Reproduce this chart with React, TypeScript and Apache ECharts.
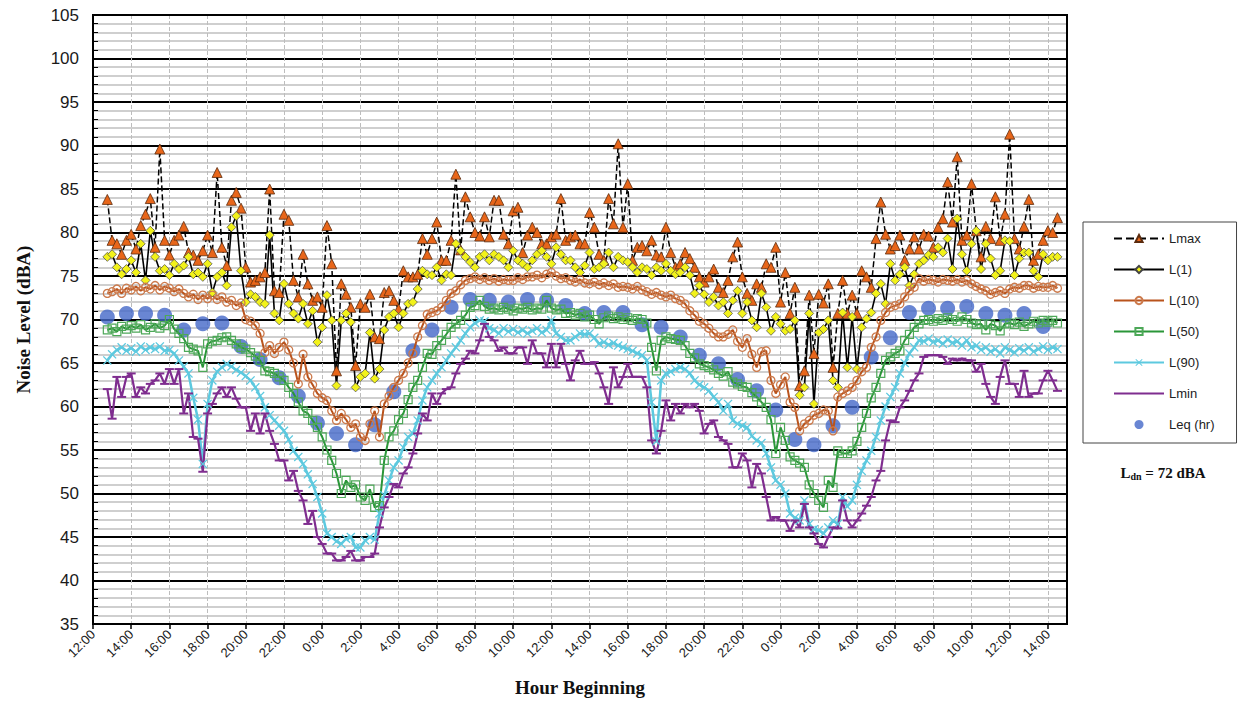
import React, { useEffect, useRef } from "react";
import * as echarts from "echarts";

// Hours after 12:00 on day 1 of the first 15-minute sample
const START_HOUR = 0.75;
const STEP = 0.25;

const lmax = [
  83.8,
  79.1, 78.7, 77.5, 79.1,
  79.8, 78.1, 80.8, 82.1,
  83.9, 78.3, 89.6, 79.1,
  77.4, 79.1, 79.7, 80.7,
  77.7, 77.4, 76.8, 77.9,
  79.7, 77.7, 86.9, 78.3,
  76.2, 83.7, 84.6, 82.8,
  76.0, 74.3, 74.5, 74.9,
  75.4, 85.0, 73.3, 73.1,
  82.1, 81.4, 74.5, 72.6,
  77.5, 74.1, 72.2, 72.6,
  71.4, 80.8, 76.4, 64.1,
  74.1, 72.9, 71.4, 64.7,
  71.8, 71.4, 72.9, 68.0,
  67.8, 73.1, 73.3, 72.2,
  71.2, 75.6, 74.9, 74.9,
  75.2, 79.3, 77.5, 79.3,
  81.2, 76.8, 76.8, 79.1,
  86.7, 78.0, 84.1, 81.8,
  80.0, 79.6, 81.8, 79.5,
  83.7, 83.7, 79.8, 78.7,
  82.5, 82.9, 77.7, 79.7,
  80.6, 80.0, 78.7, 78.7,
  79.5, 79.8, 83.9, 79.1,
  79.5, 79.7, 78.7, 78.7,
  82.3, 80.6, 77.5, 76.8,
  83.9, 81.0, 90.2, 80.6,
  85.6, 76.8, 78.3, 78.5,
  77.9, 79.1, 77.4, 77.2,
  80.6, 77.7, 76.0, 76.4,
  77.7, 77.0, 76.0, 74.9,
  74.3, 74.9, 75.8, 73.7,
  73.1, 74.5, 77.2, 78.9,
  74.9, 73.0, 72.2, 74.1,
  73.7, 76.4, 76.0, 78.3,
  72.0, 75.4, 70.7, 73.7,
  62.4, 64.1, 72.8, 66.1,
  72.9, 71.9, 74.1, 64.5,
  70.7, 74.5, 70.7, 72.8,
  70.7, 75.6, 74.9, 73.7,
  79.3, 83.5, 79.8, 78.1,
  78.5, 79.7, 76.8, 78.1,
  79.5, 78.1, 79.8, 79.6,
  78.3, 80.6, 81.6, 85.8,
  81.2, 88.7, 79.1, 79.7,
  85.6, 80.2, 77.2, 80.7,
  79.3, 84.1, 79.1, 82.1,
  91.3, 79.3, 78.1, 80.7,
  83.8, 76.8, 77.5, 79.1,
  80.2, 80.0, 81.7,
];

const l1 = [
  77.2,
  77.5, 76.0, 75.2, 75.8,
  76.8, 75.4, 78.7, 74.5,
  80.2, 77.2, 75.6, 75.8,
  75.1, 76.4, 75.8, 76.2,
  77.2, 75.2, 75.4, 74.9,
  76.4, 73.1, 74.9, 75.4,
  73.9, 80.6, 81.9, 75.6,
  72.0, 72.9, 72.6, 72.0,
  71.8, 79.7, 70.7, 69.9,
  74.1, 71.8, 70.7, 70.1,
  71.8, 69.5, 71.0, 67.4,
  69.1, 72.8, 69.9, 62.4,
  69.9, 70.7, 69.7, 62.2,
  63.4, 63.8, 68.5, 63.2,
  64.3, 68.8, 70.3, 70.7,
  69.1, 70.7, 71.8, 72.0,
  73.5, 75.6, 75.2, 75.1,
  76.0, 74.5, 75.2, 75.1,
  78.7, 77.9, 77.2, 76.6,
  76.0, 77.2, 77.5, 76.8,
  77.5, 77.2, 76.8, 76.0,
  77.9, 76.8, 76.4, 76.0,
  76.8, 77.5, 77.9, 77.2,
  76.4, 78.3, 77.5, 76.8,
  76.8, 76.0, 75.4, 76.2,
  77.7, 75.8, 76.0, 76.4,
  77.7, 76.0, 77.2, 76.8,
  76.6, 76.0, 75.4, 76.0,
  75.8, 75.1, 76.0, 75.6,
  76.4, 75.6, 75.2, 75.4,
  76.0, 75.1, 73.0, 73.9,
  72.9, 72.0, 72.6, 71.6,
  72.0, 70.7, 72.2, 73.3,
  70.7, 72.0, 69.9, 69.1,
  73.0, 71.4, 68.7, 70.3,
  69.5, 68.7, 68.9, 69.9,
  61.3, 62.2, 70.7, 60.3,
  68.5, 68.9, 69.9, 63.0,
  62.2, 70.8, 64.5, 70.3,
  64.3, 69.1, 70.1, 70.8,
  73.0, 74.1, 71.8, 76.4,
  74.5, 75.2, 76.0, 73.9,
  75.2, 76.4, 76.8, 77.4,
  77.2, 78.3, 77.7, 79.3,
  75.8, 81.6, 77.5, 75.6,
  78.7, 80.2, 75.8, 78.7,
  77.0, 75.1, 75.6, 79.1,
  79.0, 75.1, 77.0, 77.7,
  77.7, 75.6, 74.9, 77.5,
  76.8, 77.2, 77.2,
];

const l10 = [
  73.0,
  73.2, 73.5, 73.0, 73.6,
  73.4, 73.8, 73.3, 73.7,
  73.5, 73.9, 73.4, 73.8,
  73.6, 73.2, 73.5, 73.0,
  72.6, 72.9, 72.3, 72.8,
  72.4, 72.8, 72.3, 72.6,
  72.0, 72.2, 71.6, 71.9,
  70.0, 69.8, 69.3, 68.4,
  66.2, 67.0, 66.1, 66.8,
  67.4, 66.5, 65.0, 62.6,
  66.0, 63.4, 62.5, 61.5,
  61.0, 60.7, 59.5, 58.4,
  59.2, 58.5, 57.6, 58.0,
  56.5, 56.1, 58.0, 59.5,
  56.5, 60.3, 61.2, 62.2,
  63.0, 63.8, 65.0, 66.1,
  68.0, 69.3, 70.6, 70.8,
  71.0, 71.4, 72.2, 73.0,
  73.3, 74.0, 74.5, 74.7,
  74.9, 74.6, 74.8, 74.5,
  74.7, 74.4, 74.6, 74.5,
  74.5, 74.8, 74.6, 74.9,
  74.9, 75.1, 74.8, 75.2,
  75.4, 75.0, 74.7, 74.8,
  74.5, 74.3, 74.6, 74.2,
  74.1, 74.3, 74.0, 74.2,
  73.9, 74.1, 73.7, 73.8,
  73.7, 73.5, 73.8, 73.4,
  73.2, 72.9, 73.1, 72.8,
  72.6, 72.8, 72.4, 72.2,
  71.8, 71.0, 70.5, 69.8,
  69.5, 69.0, 68.4, 68.0,
  68.0, 68.3, 68.8, 67.5,
  66.8, 67.8, 66.0, 64.5,
  66.3, 66.4, 63.0, 61.5,
  62.5, 63.4, 60.5, 59.9,
  57.2, 58.0, 58.4, 59.0,
  59.2, 59.6, 59.5, 57.2,
  61.1, 61.5, 61.8, 62.2,
  63.0, 64.0, 64.5, 66.8,
  68.0, 69.9, 70.8, 71.4,
  71.6, 71.8, 72.6, 73.3,
  73.7, 74.7, 74.4, 74.6,
  74.5, 74.3, 74.6, 74.5,
  74.4, 74.6, 74.3, 74.5,
  74.1, 73.8, 73.5, 73.3,
  72.9, 73.1, 73.3, 73.0,
  73.5, 73.7, 73.6, 73.9,
  73.9, 73.6, 73.8, 73.7,
  73.7, 73.9, 73.6,
];

const l50 = [
  68.8,
  69.0, 68.6, 69.2, 68.9,
  69.3, 69.0, 69.4, 68.8,
  69.1, 69.5, 69.0, 69.3,
  70.0, 68.9, 68.4, 67.8,
  66.8, 66.6, 66.4, 64.5,
  67.2, 67.5, 67.6, 67.9,
  68.0, 67.6, 67.2, 66.8,
  66.6, 66.2, 65.8, 65.3,
  64.1, 64.0, 63.8, 63.4,
  63.0, 62.2, 61.5, 60.5,
  59.5, 59.2, 58.4, 57.6,
  56.5, 55.0, 53.8, 52.3,
  50.0, 51.5, 50.7, 51.0,
  49.6, 49.2, 50.5, 48.4,
  48.6, 53.8, 56.5, 57.2,
  58.5, 59.2, 60.8, 62.2,
  63.0, 64.5, 66.1, 66.0,
  67.0, 67.6, 68.3, 69.1,
  69.5, 69.9, 70.5, 71.4,
  71.6, 72.2, 71.5, 71.2,
  71.3, 71.1, 71.4, 71.2,
  71.0, 71.3, 71.2, 71.4,
  71.1, 71.3, 71.2, 72.2,
  71.3, 71.1, 71.2, 70.7,
  70.8, 70.5, 70.7, 70.3,
  70.5, 70.0, 69.5, 70.2,
  70.4, 70.1, 70.3, 70.0,
  70.2, 69.9, 70.1, 70.0,
  69.6, 66.8, 64.1, 67.6,
  68.0, 67.8, 67.7, 67.6,
  67.0, 66.1, 65.6, 64.9,
  64.7, 64.5, 64.2, 63.8,
  63.5, 64.0, 62.8, 62.6,
  62.3, 62.2, 61.6, 61.1,
  60.5, 59.9, 58.5, 54.6,
  57.6, 56.1, 54.2, 53.8,
  53.5, 53.0, 51.0, 50.0,
  49.2, 48.4, 51.5, 50.7,
  54.9, 54.6, 54.6, 54.9,
  56.0, 57.6, 59.2, 61.0,
  62.2, 63.8, 65.3, 65.7,
  66.1, 66.4, 67.6, 68.3,
  69.1, 69.5, 69.9, 70.0,
  69.8, 70.1, 69.9, 70.2,
  70.0, 69.8, 70.3, 70.0,
  69.6, 69.4, 69.5, 68.8,
  69.5, 69.3, 68.7, 69.5,
  69.6, 69.4, 69.7, 69.2,
  69.5, 69.8, 69.6, 69.9,
  69.7, 69.9, 69.6,
];

const l90 = [
  65.3,
  66.0, 66.5, 66.8, 66.4,
  66.7, 66.3, 66.9, 66.5,
  66.8, 66.6, 66.9, 66.4,
  66.5, 66.1, 65.3, 64.6,
  63.8, 61.0, 58.5, 53.4,
  60.3, 63.0, 64.0, 64.5,
  64.9, 64.6, 64.2, 63.9,
  63.5, 63.0, 62.2, 61.2,
  59.9, 59.0, 58.4, 57.8,
  57.2, 56.2, 54.9, 54.2,
  53.4, 52.2, 51.1, 49.6,
  47.7, 45.4, 45.0, 44.5,
  44.2, 44.8, 45.0, 43.8,
  43.8, 44.6, 45.0, 44.7,
  47.7, 49.8, 51.5, 53.0,
  53.8, 55.3, 56.5, 56.9,
  58.4, 60.7, 62.2, 63.0,
  63.8, 64.5, 65.3, 66.1,
  66.8, 67.6, 68.4, 69.1,
  69.6, 69.9, 69.8, 69.0,
  68.8, 68.4, 69.0, 68.6,
  68.9, 68.5, 68.8, 68.4,
  68.7, 69.0, 68.5, 68.8,
  69.9, 68.4, 68.0, 67.6,
  67.6, 68.0, 68.4, 68.3,
  68.4, 67.9, 67.2, 67.4,
  67.1, 67.3, 67.0, 66.8,
  66.6, 66.4, 66.1, 65.9,
  65.3, 60.5, 56.0, 63.0,
  63.8, 64.0, 64.3, 64.5,
  64.3, 63.8, 63.0, 62.5,
  62.2, 61.8, 61.1, 60.5,
  59.5, 60.3, 58.4, 58.0,
  57.8, 57.6, 56.6, 56.1,
  55.8, 54.6, 53.0, 51.5,
  51.0, 50.0, 47.7, 47.2,
  46.9, 49.2, 46.5, 45.9,
  45.8, 45.4, 46.1, 46.9,
  46.5, 49.6, 48.5, 49.2,
  51.0, 52.6, 53.8, 54.9,
  56.5, 58.4, 60.0, 61.1,
  62.2, 63.8, 65.0, 66.1,
  66.8, 67.6, 67.5, 67.8,
  67.4, 67.6, 67.2, 67.7,
  67.3, 67.5, 67.0, 67.6,
  66.8, 67.0, 66.5, 66.8,
  66.3, 66.6, 66.1, 66.8,
  66.5, 66.2, 66.7, 66.4,
  66.8, 66.3, 66.6, 66.9,
  66.5, 66.8, 66.6,
];

const lmin = [
  62.0,
  58.6, 63.4, 61.1, 63.4,
  63.8, 61.1, 62.2, 61.5,
  62.6, 63.0, 63.8, 62.6,
  64.3, 62.6, 64.3, 59.2,
  61.5, 56.5, 56.3, 52.5,
  59.2, 60.3, 61.5, 62.2,
  61.1, 62.2, 60.9, 59.9,
  59.9, 57.2, 59.2, 56.9,
  59.2, 57.2, 55.7, 53.8,
  53.8, 51.5, 52.6, 50.3,
  49.2, 46.5, 48.0, 45.0,
  44.2, 43.1, 43.1, 42.3,
  42.3, 42.7, 43.4, 42.3,
  42.3, 42.7, 42.7, 43.1,
  46.1, 48.4, 49.6, 51.1,
  50.7, 52.3, 53.0, 54.6,
  56.9, 59.2, 58.4, 61.5,
  60.3, 61.5, 62.0, 62.2,
  63.8, 64.9, 65.5, 66.4,
  66.1, 67.6, 69.5, 68.0,
  67.6, 66.4, 66.8, 66.1,
  66.1, 66.8, 66.8, 64.9,
  67.6, 66.1, 66.1, 64.5,
  67.2, 64.5, 67.2, 64.9,
  63.0, 65.3, 66.4, 64.9,
  64.9, 65.1, 63.8, 62.2,
  60.3, 64.5, 62.2, 63.4,
  64.9, 63.4, 63.4, 63.4,
  62.2, 56.1, 54.6, 57.2,
  60.7, 58.4, 60.3, 59.2,
  60.3, 59.9, 60.3, 59.5,
  56.9, 58.0, 58.4, 56.5,
  56.1, 55.7, 53.0, 53.0,
  54.6, 53.8, 50.7, 53.4,
  52.3, 49.6, 46.9, 47.3,
  46.9, 46.9, 45.7, 46.9,
  46.1, 48.8, 46.1, 45.4,
  44.2, 43.8, 45.0, 46.1,
  46.0, 49.2, 46.9, 46.1,
  46.9, 47.7, 48.6, 49.6,
  51.5, 52.6, 56.1, 58.4,
  58.2, 59.9, 60.7, 61.8,
  63.0, 63.8, 65.7, 65.9,
  65.9, 65.9, 65.7, 64.9,
  65.5, 65.3, 65.5, 65.3,
  65.3, 64.0, 64.9, 62.6,
  61.1, 60.3, 63.4, 65.3,
  62.6, 62.6, 61.1, 64.1,
  61.1, 61.5, 61.5, 63.0,
  64.1, 63.0, 61.8,
];

// Hourly Leq, one per hour starting at START_HOUR
const leqHourly = [
  70.3, 70.7, 70.7, 70.5, 68.8, 69.5, 69.6, 66.9, 65.4, 63.3,
  61.2, 58.1, 56.9, 55.6, 57.9, 61.7, 66.4, 68.8, 71.4, 72.3,
  72.2, 72.0, 72.3, 72.2, 71.6, 70.7, 70.8, 70.8, 69.4, 69.1,
  68.0, 65.9, 64.9, 63.1, 61.8, 59.6, 56.2, 55.6, 57.8, 59.9,
  65.7, 67.9, 70.8, 71.3, 71.3, 71.5, 70.7, 70.5, 70.7, 69.2,
];

const seriesNames = ["Lmax", "L(1)", "L(10)", "L(50)", "L(90)", "Lmin", "Leq (hr)"];
const xMin = 0;
const xMax = 51;
const xInterval = 2;
const yMin = 35;
const yMax = 105;
const yInterval = 5;
const ldnText = "72 dBA";

const toPoints = (values: number[], step: number) =>
  values.map((v, i) => [START_HOUR + i * step, v]);

const hourLabel = (v: number) => `${(12 + Math.round(v)) % 24}:00`;

const GRID = { left: 93, top: 15, width: 974, height: 609 };
const CROSS = "path://M1,0L5,4L9,0L10,1L6,5L10,9L9,10L5,6L1,10L0,9L4,5L0,1Z";

export default function App() {
  const ref = useRef<HTMLDivElement>(null);

  useEffect(() => {
    if (!ref.current) return;
    const chart = echarts.init(ref.current, undefined, { renderer: "svg" });
    const sans = "'Liberation Sans', Arial, sans-serif";
    const serif = "'Liberation Serif', 'Times New Roman', serif";

    chart.setOption({
      animation: false,
      backgroundColor: "#ffffff",
      grid: {
        left: GRID.left,
        top: GRID.top,
        width: GRID.width,
        height: GRID.height,
        containLabel: false,
      },
      legend: {
        orient: "vertical",
        left: 1083,
        top: 222,
        padding: [10, 22, 12, 30],
        itemGap: 18,
        itemWidth: 50,
        itemHeight: 9,
        borderColor: "#444",
        borderWidth: 1,
        backgroundColor: "#fff",
        textStyle: { fontFamily: sans, fontSize: 13, color: "#222" },
        data: [
          { name: "Lmax" },
          { name: "L(1)" },
          { name: "L(10)" },
          { name: "L(50)" },
          { name: "L(90)" },
          { name: "Lmin", itemStyle: { color: "rgba(0,0,0,0)", borderWidth: 0 } },
          { name: "Leq (hr)" },
        ],
      },
      xAxis: {
        type: "value",
        min: xMin,
        max: xMax,
        interval: xInterval,
        name: "Hour Beginning",
        nameLocation: "middle",
        nameGap: 54,
        nameTextStyle: { fontFamily: serif, fontWeight: "bold", fontSize: 19, color: "#111" },
        axisLine: { show: true, lineStyle: { color: "#000", width: 2 } },
        axisTick: { show: true, length: 5, lineStyle: { color: "#000", width: 1.5 } },
        axisLabel: {
          rotate: 45,
          fontFamily: sans,
          fontSize: 13,
          color: "#222",
          margin: 8,
          showMaxLabel: false,
          formatter: hourLabel,
        },
        splitLine: { show: true, lineStyle: { color: "#bdbdbd", type: "dashed", width: 1 } },
      },
      yAxis: {
        type: "value",
        min: yMin,
        max: yMax,
        interval: yInterval,
        name: "Noise Level (dBA)",
        nameLocation: "middle",
        nameGap: 60,
        nameTextStyle: { fontFamily: serif, fontWeight: "bold", fontSize: 19, color: "#111" },
        axisLine: { show: true, lineStyle: { color: "#000", width: 2 } },
        axisTick: { show: true, inside: true, length: 6, lineStyle: { color: "#000", width: 1.5 } },
        minorTick: { show: true, splitNumber: 5, length: 5, lineStyle: { color: "#000", width: 1 } },
        axisLabel: { fontFamily: sans, fontSize: 17, color: "#1a1a1a", margin: 14 },
        splitLine: { show: true, lineStyle: { color: "#000", width: 2 } },
        minorSplitLine: { show: true, lineStyle: { color: "#cfcfcf", width: 2 } },
      },
      graphic: [
        {
          type: "rect",
          silent: true,
          z: 100,
          shape: { x: GRID.left, y: GRID.top, width: GRID.width, height: GRID.height },
          style: { fill: "none", stroke: "#000", lineWidth: 2 },
        },
        {
          type: "text",
          x: 1163,
          y: 473,
          style: {
            text: `{a|L}{b|dn}{a| = ${ldnText}}`,
            align: "center",
            verticalAlign: "middle",
            rich: {
              a: { fontFamily: serif, fontWeight: "bold", fontSize: 15, fill: "#111", color: "#111" },
              b: {
                fontFamily: serif,
                fontWeight: "bold",
                fontSize: 10,
                fill: "#111",
                color: "#111",
                verticalAlign: "bottom",
                padding: [6, 0, 0, 0],
              },
            },
          },
        },
      ],
      series: [
        {
          name: seriesNames[0],
          type: "line",
          data: toPoints(lmax, STEP),
          symbol: "triangle",
          symbolSize: 10,
          lineStyle: { color: "#000", width: 1.5, type: "dashed" },
          itemStyle: { color: "#E8661A", borderColor: "#5b2b0e", borderWidth: 0.8 },
        },
        {
          name: seriesNames[1],
          type: "line",
          data: toPoints(l1, STEP),
          symbol: "diamond",
          symbolSize: 9,
          lineStyle: { color: "#000", width: 1.6 },
          itemStyle: { color: "#F2F21A", borderColor: "#444", borderWidth: 0.7 },
        },
        {
          name: seriesNames[2],
          type: "line",
          data: toPoints(l10, STEP),
          symbol: "circle",
          symbolSize: 8,
          lineStyle: { color: "#B9531C", width: 2 },
          itemStyle: { color: "rgba(255,255,255,0)", borderColor: "#CC7A4C", borderWidth: 1.3 },
        },
        {
          name: seriesNames[3],
          type: "line",
          data: toPoints(l50, STEP),
          symbol: "rect",
          symbolSize: 8,
          lineStyle: { color: "#2A9638", width: 2 },
          itemStyle: { color: "rgba(255,255,255,0)", borderColor: "#4DA858", borderWidth: 1.2 },
        },
        {
          name: seriesNames[4],
          type: "line",
          data: toPoints(l90, STEP),
          symbol: CROSS,
          symbolSize: 9,
          lineStyle: { color: "#5DC9DF", width: 2.5 },
          itemStyle: { color: "#5DC9DF" },
        },
        {
          name: seriesNames[5],
          type: "line",
          data: toPoints(lmin, STEP),
          symbol: "rect",
          symbolSize: [9, 2],
          lineStyle: { color: "#7F2D8F", width: 2.2 },
          itemStyle: { color: "#7F2D8F" },
        },
        {
          name: seriesNames[6],
          type: "scatter",
          data: toPoints(leqHourly, 1),
          symbol: "circle",
          symbolSize: 15,
          itemStyle: { color: "#4468C8" },
        },
      ],
    });

    return () => chart.dispose();
  }, []);

  return (
    <div
      ref={ref}
      style={{ position: "fixed", left: 0, top: 0, width: 1245, height: 705, background: "#fff" }}
    />
  );
}
